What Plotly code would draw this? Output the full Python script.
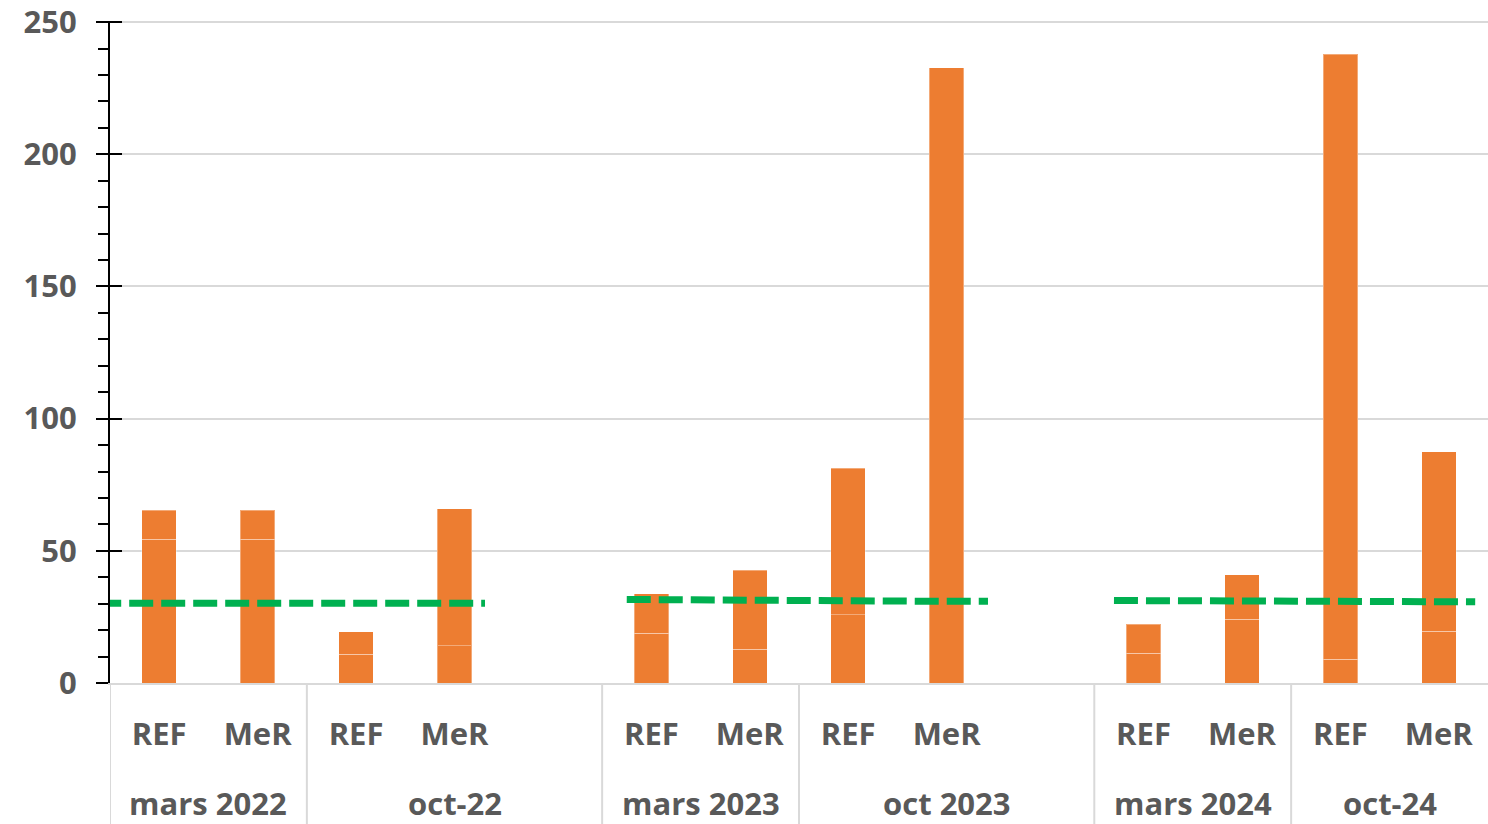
import plotly.graph_objects as go

# ---------------- data ----------------
periodes = ["mars 2022", "oct-22", "mars 2023", "oct 2023", "mars 2024", "oct-24"]
scenarios = ["REF", "MeR"]
# number of category slots in each period (oct-22 and oct 2023 carry an empty slot)
slots_par_periode = [2, 3, 2, 3, 2, 2]

# stacked bar segments, order: period by period, REF then MeR
segment_bas = [54.4, 54.4, 10.9, 14.0, 18.8, 12.8, 25.8, 232.8, 11.2, 24.1, 9.0, 19.6]
segment_haut = [11.0, 11.0, 8.4, 51.9, 14.9, 29.9, 55.4, 0.0, 11.0, 16.9, 228.8, 67.9]

# green dashed reference level, one value per bar, grouped by line
seuil_groupes = [[0, 1], [2, 3], [4, 5]]  # pairs of period indices joined by a line
seuil = [30.2, 30.2, 30.2, 30.2, 31.6, 31.4, 31.1, 30.9, 31.2, 31.0, 30.9, 30.7]

y_ticks = [0, 50, 100, 150, 200, 250]

# ---------------- styles ----------------
ORANGE = "#ED7D31"
VERT = "#00B050"
GRIS_TXT = "#595959"
GRIS_GRILLE = "#D9D9D9"
FONT = "Open Sans"
FS = 31
seuil_pad_gauche = [0.63, 0.25, 0.30]
seuil_pad_droite = [0.31, 0.42, 0.37]

# ---------------- layout computation ----------------
slot_x, slot_lbl = [], []
bornes = [-0.5]
centres = []
idx = 0
for p, n in zip(periodes, slots_par_periode):
    start = idx
    for k in range(n):
        if k < len(scenarios):
            slot_x.append(idx)
            slot_lbl.append(scenarios[k])
        idx += 1
    bornes.append(idx - 0.5)
    centres.append((start + idx - 1) / 2)

fig = go.Figure()
common = dict(x=slot_x, marker=dict(color=ORANGE, line=dict(color="rgba(255,255,255,0.35)", width=1)),
              hoverinfo="y", showlegend=False)
fig.add_trace(go.Bar(y=segment_bas, **common))
fig.add_trace(go.Bar(y=segment_haut, **common))

# dashed lines
for g, (pa, pb) in enumerate(seuil_groupes):
    bars = [i for i in range(len(slot_x)) if bornes[pa] <= slot_x[i] <= bornes[pb + 1]]
    xs = [slot_x[bars[0]] - seuil_pad_gauche[g]] + [slot_x[i] for i in bars] + [slot_x[bars[-1]] + seuil_pad_droite[g]]
    ys = [seuil[bars[0]]] + [seuil[i] for i in bars] + [seuil[bars[-1]]]
    fig.add_trace(go.Scatter(x=xs, y=ys, mode="lines", cliponaxis=False,
                             line=dict(color=VERT, width=7, dash="24px,8px"),
                             hoverinfo="skip", showlegend=False))

# invisible trace for inside tick marks axis
fig.add_trace(go.Scatter(x=[0], y=[0], yaxis="y2", mode="markers", marker=dict(opacity=0),
                         hoverinfo="skip", showlegend=False))

font = dict(family=FONT, size=FS, color=GRIS_TXT, weight="bold")

shapes = [dict(type="line", xref="x", yref="paper", x0=b, x1=b, y0=0, y1=-0.3,
               line=dict(color=GRIS_GRILLE, width=2), layer="below") for b in bornes[:-1]]

annotations = [dict(x=c, xref="x", y=0, yref="paper", yanchor="middle", yshift=-120,
                    text=p, showarrow=False, font=font) for c, p in zip(centres, periodes)]

YR = [0, 250.4]
fig.update_layout(
    width=1488, height=824,
    margin=dict(l=110, r=0, t=21, b=141),
    paper_bgcolor="white", plot_bgcolor="white",
    barmode="stack", bargap=0.65,
    shapes=shapes, annotations=annotations,
    xaxis=dict(range=[-0.5, idx - 0.5], tickvals=slot_x, ticktext=slot_lbl, ticks="",
               tickfont=font, showgrid=False, zeroline=False,
               showline=True, linecolor=GRIS_GRILLE, linewidth=2, ticklabelstandoff=23),
    yaxis=dict(range=YR, tickvals=y_ticks, tickfont=font, showgrid=True,
               gridcolor=GRIS_GRILLE, gridwidth=2, zeroline=False,
               showline=True, linecolor="black", linewidth=2,
               ticks="outside", ticklen=12, tickwidth=2, tickcolor="black",
               minor=dict(dtick=10, ticks="outside", ticklen=10, tickwidth=2, tickcolor="black", showgrid=False),
               ticklabelstandoff=13, ticklabeloverflow="allow"),
    yaxis2=dict(overlaying="y", range=YR, tickvals=y_ticks, showticklabels=False,
                ticks="inside", ticklen=12, tickwidth=2, tickcolor="black",
                showgrid=False, zeroline=False, showline=False, side="left"),
)

fig.write_html("out.html", config={"displayModeBar": False},
               post_script="document.body.style.margin='0';document.body.style.overflow='hidden';")
